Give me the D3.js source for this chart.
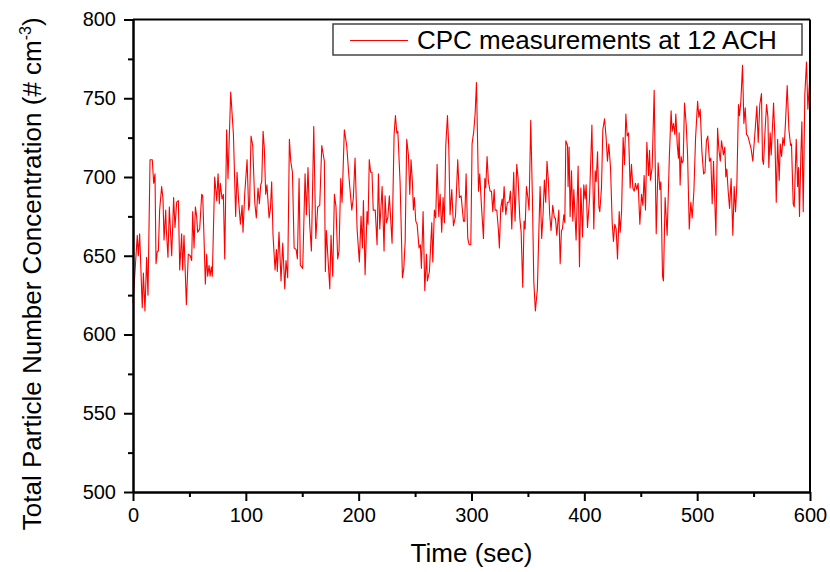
<!DOCTYPE html>
<html>
<head>
<meta charset="utf-8">
<script src="https://cdn.jsdelivr.net/npm/d3@7"></script>
<style>
  body { margin: 0; background: #fff; }
  svg text { font-family: "Liberation Sans", Arial, sans-serif; fill: #000; }
</style>
</head>
<body>
<script>
// time (sec) of each reading and the CPC concentration (# cm-3)
var timeSec = [
  0, 3.8, 4.7, 5.9, 8.2, 9.2, 10.6, 12.1, 13.3, 15.1, 17.1, 18.3, 19.5, 20.4, 21.6, 22.5, 23.6, 25.4, 26.6, 27.5,
  29, 29.5, 31, 32.2, 34.3, 36, 37.2, 38.7, 40.2, 41.4, 43.1, 44, 45.2, 47.3, 49, 50.8, 52, 52.9, 54.1, 55.3,
  56.4, 57.3, 59.1, 60.9, 61.8, 63.2, 64.1, 65.3, 66.2, 67.4, 68.3, 69.4, 70.3, 72.4, 74.2, 75.4, 76.5, 77.4, 78.9, 80.1,
  81.3, 83, 84.2, 86.6, 89, 91, 92.2, 93.7, 95.2, 96.7, 97.5, 99, 101.1, 102.5, 103.3, 104.6, 106.1, 107.9, 109.3, 110.8,
  112, 113.2, 114.1, 115.3, 116.4, 117.6, 118.7, 120.6, 121.8, 122.9, 124.1, 125.9, 127.1, 127.9, 129.4, 131.2, 132.7, 134.5, 135.6, 137.1,
  138.6, 139.8, 141.3, 142.8, 144.6, 145.7, 147.2, 148.3, 150.4, 152.5, 153.7, 155.1, 156.6, 158.1, 160.2, 162, 163.7, 165.5, 167.3, 169.6,
  170.5, 171.4, 172.6, 174.4, 175.5, 177, 178.5, 179.9, 181.4, 182.6, 184.1, 185.3, 187.3, 189.4, 191.5, 193.9, 195.3, 196.8, 198.6, 200.6,
  202.1, 203.3, 204.2, 205.7, 207.4, 208.3, 209.4, 210.6, 211.8, 212.9, 214.7, 216.3, 217.5, 218.7, 220.8, 222.5, 223.4, 224.6, 225.8, 227.2,
  229.6, 231.4, 232.6, 233.8, 234.7, 236.7, 238.8, 240, 241.2, 242.6, 244.1, 245.3, 246.4, 247.6, 248.5, 249.4, 250.6, 251.8, 253.5, 254.7,
  255.6, 257.1, 258.6, 260.1, 260.9, 262.7, 264.8, 265.7, 267.1, 268.3, 269.5, 271, 272.2, 273.6, 274.8, 276, 277.2, 278.7, 279.9, 281,
  282.5, 284, 285.8, 287.8, 289.3, 290.8, 292.9, 294, 295.2, 296.7, 297.9, 299.4, 300.5, 302, 303.2, 304.4, 306.2, 307.3, 308.8, 310.6,
  311.8, 312.6, 313.8, 315, 316.5, 317.7, 318.9, 320.1, 320.9, 322.4, 323.8, 324.7, 325.9, 327.1, 327.7, 328.9, 330.4, 331.8, 333.3, 334.5,
  335.7, 337.4, 338.6, 340.1, 341.3, 342.8, 344, 345.4, 346.6, 347.5, 348.7, 350.1, 351, 352.5, 354, 355.2, 356.6, 358.4, 359.6, 360.8,
  362.2, 363.4, 364.6, 365.8, 366.9, 368.1, 369.3, 370.5, 372, 373.5, 374.4, 375.6, 377.4, 378.6, 379.7, 380.6, 381.8, 382.7, 383.6, 385.1,
  385.6, 386.5, 387.4, 388.6, 389.8, 390.7, 392.7, 394.5, 395.7, 396.9, 398.4, 399.5, 400.7, 401.6, 402.8, 404.6, 406.7, 408.4, 409.6, 410.5,
  411.7, 412.9, 413.7, 415.2, 416.4, 417.9, 419.3, 420.5, 421.7, 423.2, 424.7, 425.8, 427, 428.2, 429.4, 430.9, 431.8, 433, 434.4, 435.6,
  436.8, 438, 439.2, 440.6, 441.8, 443, 444.2, 445.3, 446.5, 447.7, 449.2, 450.7, 451.9, 453, 454.2, 455.4, 456.9, 457.8, 458.6, 460.1,
  461.9, 463.7, 465.4, 466.9, 467.8, 469.3, 470.1, 471.6, 473.4, 475.4, 476.9, 477.8, 479, 480.2, 481.1, 482.3, 483.4, 484, 484.9, 485.8,
  486.7, 487.6, 488.8, 490.3, 491.5, 493, 494.4, 495.6, 497.1, 498.6, 500.4, 501.5, 502.7, 504.2, 505.7, 506.9, 508.2, 509.4, 510.9, 512.1,
  513.3, 514.5, 516.6, 518.1, 519.3, 520.5, 521.6, 523.3, 524.5, 525.4, 526.3, 527.5, 528.7, 530.1, 531.6, 532.8, 534, 535.2, 536.6, 537.5,
  538.7, 540.2, 541.4, 542.6, 543.7, 544.9, 546.4, 547.8, 549.3, 551.1, 552.9, 554.1, 555.5, 557, 557.9, 558.8, 560, 561.5, 562.7, 563.5,
  564.7, 565.6, 567.7, 568.9, 570.1, 571.3, 572.7, 573.6, 574.8, 576, 577.2, 578.3, 579.8, 581.3, 582.8, 583.6, 585.1, 586, 587.8, 589,
  589.8, 590.7, 591.9, 592.8, 594, 595.4, 596.9, 598.1, 599.6, 600
];
var concentration = [
  620, 663, 650, 664, 617, 639, 615, 649, 625, 711, 711, 696, 702, 645, 653, 653, 679, 694, 686, 660,
  679, 667, 649, 681, 650, 687, 668, 684, 685, 641, 664, 641, 663, 619, 651, 650, 647, 678, 655, 681,
  675, 665, 667, 689, 688, 655, 632, 651, 637, 644, 637, 643, 637, 700, 685, 702, 683, 696, 686, 689,
  648, 730, 699, 754, 727, 675, 703, 684, 670, 682, 665, 689, 711, 679, 682, 726, 720, 684, 674, 693,
  683, 695, 697, 729, 718, 689, 695, 674, 680, 697, 663, 641, 654, 640, 665, 634, 658, 629, 647, 636,
  724, 710, 703, 655, 654, 648, 699, 644, 642, 702, 676, 706, 670, 653, 732, 661, 681, 682, 720, 710,
  640, 666, 651, 629, 663, 637, 689, 681, 648, 653, 699, 684, 730, 720, 699, 679, 687, 712, 667, 646,
  675, 655, 685, 638, 678, 670, 711, 703, 703, 679, 679, 657, 702, 667, 694, 653, 688, 671, 674, 688,
  658, 727, 739, 728, 729, 697, 636, 642, 659, 724, 714, 689, 711, 697, 679, 687, 672, 670, 655, 657,
  642, 678, 628, 651, 634, 640, 671, 646, 679, 674, 708, 675, 689, 665, 687, 671, 720, 739, 718, 676,
  692, 669, 675, 711, 687, 688, 672, 672, 702, 661, 657, 657, 721, 729, 740, 760, 691, 702, 682, 661,
  699, 693, 713, 697, 691, 691, 678, 692, 679, 679, 667, 655, 680, 686, 678, 694, 676, 684, 684, 691,
  667, 703, 672, 708, 699, 674, 665, 630, 672, 667, 694, 686, 679, 736, 686, 634, 615, 629, 663, 694,
  661, 676, 698, 684, 710, 698, 676, 666, 682, 674, 674, 663, 679, 645, 666, 667, 676, 671, 723, 720,
  694, 719, 675, 704, 672, 692, 660, 707, 643, 693, 662, 695, 686, 695, 668, 686, 733, 667, 704, 697,
  716, 681, 678, 693, 730, 737, 725, 710, 721, 706, 671, 659, 670, 667, 648, 678, 665, 678, 725, 708,
  740, 726, 728, 693, 708, 693, 691, 696, 692, 696, 670, 689, 682, 701, 679, 722, 701, 717, 698, 706,
  755, 664, 709, 692, 697, 637, 634, 687, 663, 714, 742, 729, 734, 727, 740, 721, 712, 728, 695, 713,
  709, 710, 747, 733, 714, 667, 684, 674, 691, 725, 748, 738, 743, 716, 702, 703, 723, 726, 710, 712,
  683, 710, 663, 731, 717, 710, 723, 714, 719, 700, 705, 691, 680, 699, 663, 694, 678, 696, 746, 739,
  748, 771, 734, 744, 727, 726, 722, 718, 710, 727, 745, 722, 746, 753, 711, 708, 727, 746, 738, 706,
  728, 714, 747, 725, 684, 724, 698, 721, 713, 725, 720, 735, 758, 730, 720, 721, 683, 681, 724, 694,
  706, 675, 714, 735, 678, 752, 773, 743, 761, 702
];
var xTicks = [0, 100, 200, 300, 400, 500, 600];
var xMinorTicks = [50, 150, 250, 350, 450, 550];
var yTicks = [500, 550, 600, 650, 700, 750, 800];
var yMinorTicks = [525, 575, 625, 675, 725, 775];
var seriesName = "CPC measurements at 12 ACH";

var data = timeSec.map(function (t, i) { return { t: t, v: concentration[i] }; });

var W = 830, H = 572;
var margin = { top: 19.5, right: 20, bottom: 80, left: 133 },
  w = 810 - margin.left,
  h = 492 - margin.top;

var svg = d3.select("body").append("svg")
  .attr("width", W)
  .attr("height", H);

var g = svg.append("g")
  .attr("transform", "translate(" + margin.left + "," + margin.top + ")");

var xScale = d3.scaleLinear().domain([0, 600]).range([0, w]);
var yScale = d3.scaleLinear().domain([500, 800]).range([h, 0]);

// the series
var line = d3.line()
  .x(function (d) { return xScale(d.t); })
  .y(function (d) { return yScale(d.v); });

g.append("path")
  .datum(data)
  .attr("fill", "none")
  .attr("stroke", "#ff0000")
  .attr("stroke-width", 1.1)
  .attr("stroke-linejoin", "round")
  .attr("d", line);

// axes
var xAxis = d3.axisBottom(xScale).tickValues(xTicks).tickSize(9).tickPadding(7).tickSizeOuter(0);
var xMinor = d3.axisBottom(xScale).tickValues(xMinorTicks).tickSize(5).tickFormat("").tickSizeOuter(0);
var yAxis = d3.axisLeft(yScale).tickValues(yTicks).tickSize(9).tickPadding(8).tickSizeOuter(0);
var yMinor = d3.axisLeft(yScale).tickValues(yMinorTicks).tickSize(5).tickFormat("").tickSizeOuter(0);

function styleAxis(sel) {
  sel.selectAll("path").attr("stroke", "#000").attr("stroke-width", 2);
  sel.selectAll("line").attr("stroke", "#000").attr("stroke-width", 2);
  sel.selectAll("text").style("font-size", "20px").style("font-family", "'Liberation Sans', Arial, sans-serif");
}

g.append("g").attr("transform", "translate(0," + h + ")").call(xMinor).call(styleAxis);
g.append("g").call(yMinor).call(styleAxis);
g.append("g").attr("transform", "translate(0," + h + ")").call(xAxis).call(styleAxis);
g.append("g").call(yAxis).call(styleAxis);

// frame top and right
g.append("line").attr("x1", 0).attr("x2", w).attr("y1", 0).attr("y2", 0)
  .attr("stroke", "#000").attr("stroke-width", 2);
g.append("line").attr("x1", w).attr("x2", w).attr("y1", 0).attr("y2", h)
  .attr("stroke", "#000").attr("stroke-width", 2);

// axis titles
svg.append("text")
  .attr("x", margin.left + w / 2)
  .attr("y", 562)
  .attr("text-anchor", "middle")
  .style("font-size", "26px")
  .text("Time (sec)");

var yTitle = svg.append("text")
  .attr("transform", "translate(41," + (margin.top + h / 2 + 18) + ") rotate(-90)")
  .attr("text-anchor", "middle")
  .style("font-size", "26px");
yTitle.append("tspan").text("Total Particle Number Concentration (# cm");
yTitle.append("tspan").attr("dy", -10).style("font-size", "16px").text("-3");
yTitle.append("tspan").attr("dy", 10).text(")");

// legend
var legend = svg.append("g").attr("transform", "translate(333,24)");
legend.append("rect")
  .attr("width", 469).attr("height", 31)
  .attr("fill", "#fff")
  .attr("stroke", "#444")
  .attr("stroke-width", 1.5);
legend.append("line")
  .attr("x1", 17).attr("x2", 75).attr("y1", 16.5).attr("y2", 16.5)
  .attr("stroke", "#ff0000").attr("stroke-width", 1.1);
legend.append("text")
  .attr("x", 84).attr("y", 25)
  .style("font-size", "26px")
  .text(seriesName);
</script>
</body>
</html>
